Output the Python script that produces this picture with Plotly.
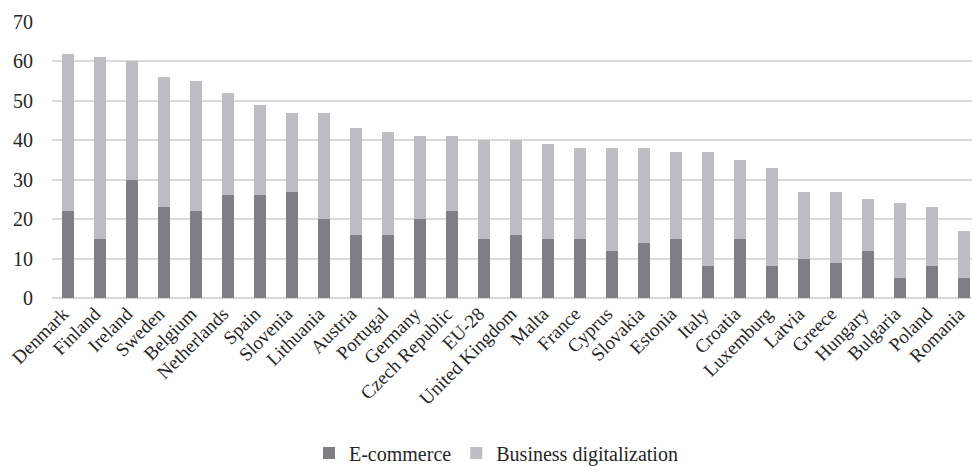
import plotly.graph_objects as go

countries = ["Denmark", "Finland", "Ireland", "Sweden", "Belgium", "Netherlands", "Spain",
             "Slovenia", "Lithuania", "Austria", "Portugal", "Germany", "Czech Republic", "EU-28",
             "United Kingdom", "Malta", "France", "Cyprus", "Slovakia", "Estonia", "Italy",
             "Croatia", "Luxemburg", "Latvia", "Greece", "Hungary", "Bulgaria", "Poland", "Romania"]
ecommerce = [22, 15, 30, 23, 22, 26, 26, 27, 20, 16, 16, 20, 22, 15, 16, 15, 15, 12, 14, 15,
             8, 15, 8, 10, 9, 12, 5, 8, 5]
business_digitalization = [40, 46, 30, 33, 33, 26, 23, 20, 27, 27, 26, 21, 19, 25, 24, 24, 23,
                           26, 24, 22, 29, 20, 25, 17, 18, 13, 19, 15, 12]
y_ticks = [0, 10, 20, 30, 40, 50, 60, 70]

FONT = "Liberation Serif, Times New Roman, serif"

fig = go.Figure()
fig.add_trace(go.Bar(x=countries, y=ecommerce, name="E-commerce",
                     marker=dict(color="#7e7e83", line=dict(width=0))))
fig.add_trace(go.Bar(x=countries, y=business_digitalization, name="Business digitalization",
                     marker=dict(color="#bebec2", line=dict(width=0))))

fig.update_layout(
    barmode="stack",
    bargap=0.6,
    width=972, height=466,
    margin=dict(l=52, r=0, t=22, b=168, autoexpand=False),
    paper_bgcolor="white", plot_bgcolor="white",
    font=dict(family=FONT, size=19, color="#262626"),
    xaxis=dict(tickangle=-45, range=[-0.5, 28.25], showgrid=False, ticks="",
               showline=False, automargin=False, ticklabelshift=-5,
               tickfont=dict(family=FONT, size=19)),
    yaxis=dict(range=[0, 70], tickvals=y_ticks, showgrid=True, gridcolor="#d9d9d9",
               gridwidth=1.5, zeroline=True, zerolinecolor="#d9d9d9", zerolinewidth=1.5,
               ticks="", ticklabelstandoff=18, automargin=False,
               tickfont=dict(family=FONT, size=20)),
    legend=dict(orientation="h", x=0.4826, xanchor="center", y=-0.562, yanchor="middle",
                font=dict(family=FONT, size=20), traceorder="normal", itemwidth=30),
    showlegend=True,
)

# remove the default page margin so the 972x466 figure fills the window exactly
fig.write_html("out.html", config={"displayModeBar": False},
               post_script="document.body.style.margin='0';document.body.style.overflow='hidden';")
